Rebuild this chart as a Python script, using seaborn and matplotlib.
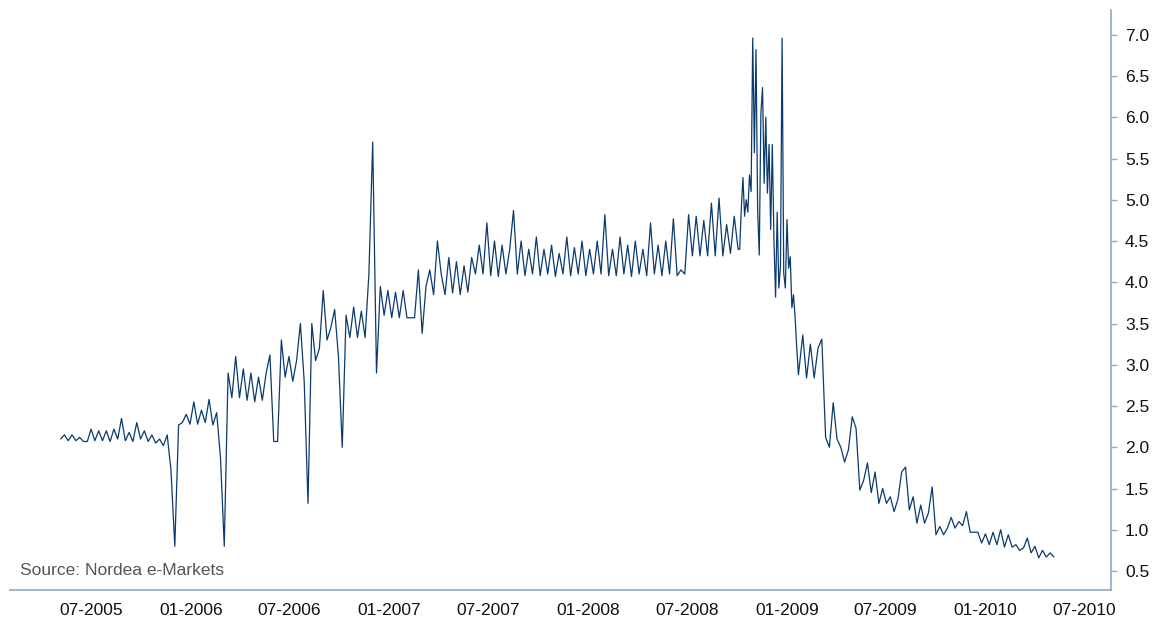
"""
Nordea e-Markets rate history, May 2005 - May 2010
"""
import pandas as pd
import matplotlib
matplotlib.use("Agg")
import matplotlib.pyplot as plt
import matplotlib.dates as mdates
from matplotlib.ticker import FixedLocator, FormatStrFormatter
import seaborn as sns

# weekly readings (Fridays) from 2005-05-06
vals_2005 = [2.10, 2.15, 2.08, 2.15, 2.08, 2.12, 2.07, 2.07, 2.22, 2.08,
             2.20, 2.08, 2.20, 2.07, 2.22, 2.10, 2.35, 2.08, 2.18, 2.07,
             2.30, 2.10, 2.20, 2.07, 2.15, 2.05, 2.10, 2.02, 2.15, 1.72,
             0.80, 2.27, 2.30, 2.40, 2.28]

# weekly from 2006-01-06
vals_2006 = [2.55, 2.28, 2.45, 2.30, 2.58, 2.27, 2.42, 1.88, 0.80, 2.90,
             2.60, 3.10, 2.60, 2.95, 2.57, 2.90, 2.55, 2.85, 2.57, 2.90,
             3.12, 2.07, 2.07, 3.30, 2.85, 3.10, 2.80, 3.05, 3.50, 2.80,
             1.32, 3.50, 3.05, 3.20, 3.90, 3.30, 3.45, 3.67, 3.10, 2.00,
             3.60, 3.33, 3.70, 3.33, 3.65, 3.33, 4.10, 5.70, 2.90, 3.95,
             3.60, 3.90]

# weekly from 2007-01-05
vals_2007 = [3.57, 3.88, 3.57, 3.90, 3.57, 3.57, 3.57, 4.15, 3.38, 3.95,
             4.15, 3.85, 4.50, 4.10, 3.85, 4.30, 3.87, 4.25, 3.85, 4.20,
             3.88, 4.30, 4.10, 4.45, 4.10, 4.72, 4.08, 4.50, 4.07, 4.45,
             4.10, 4.40, 4.87, 4.10, 4.50, 4.08, 4.40, 4.10, 4.55, 4.08,
             4.40, 4.10, 4.45, 4.07, 4.35, 4.10, 4.55, 4.08, 4.42, 4.10,
             4.50, 4.08]

# weekly from 2008-01-04 to end of September
vals_2008 = [4.40, 4.10, 4.50, 4.10, 4.82, 4.08, 4.40, 4.08, 4.55, 4.10,
             4.45, 4.07, 4.50, 4.10, 4.40, 4.08, 4.72, 4.10, 4.45, 4.08,
             4.50, 4.10, 4.77, 4.08, 4.15, 4.10, 4.82, 4.32, 4.80, 4.32,
             4.75, 4.32, 4.96, 4.32, 5.02, 4.32, 4.70, 4.35, 4.80, 4.40]

# every third day from 2008-10-06, the most volatile stretch
vals_crisis = [4.40, 4.90, 5.27, 4.80, 5.00, 4.85, 5.30, 5.10, 6.96, 5.57,
               6.82, 4.88, 4.33, 6.05, 6.36, 5.20, 6.00, 5.08, 5.67, 4.64,
               5.67, 4.51, 3.82, 4.85, 3.93, 4.20, 6.96, 4.11, 3.93, 4.76,
               4.17, 4.31, 3.69, 3.85, 3.57, 3.20, 2.88]

# weekly from 2009-01-30
vals_2009 = [3.36, 2.84, 3.25, 2.84, 3.20, 3.31, 2.12, 2.00, 2.54, 2.10,
             2.00, 1.82, 1.97, 2.37, 2.23, 1.48, 1.60, 1.81, 1.45, 1.70,
             1.32, 1.50, 1.32, 1.40, 1.22, 1.37, 1.70, 1.76, 1.24, 1.40,
             1.08, 1.30, 1.08, 1.20, 1.52, 0.94, 1.04, 0.94, 1.02, 1.15,
             1.02, 1.10, 1.05, 1.22, 0.97, 0.97, 0.97, 0.84]

# weekly from 2010-01-01
vals_2010 = [0.95, 0.82, 0.97, 0.82, 1.00, 0.79, 0.94, 0.79, 0.82, 0.75,
             0.78, 0.90, 0.72, 0.80, 0.66, 0.75, 0.67, 0.72, 0.67]

y_ticks = [0.5, 1.0, 1.5, 2.0, 2.5, 3.0, 3.5, 4.0, 4.5, 5.0, 5.5, 6.0, 6.5, 7.0]
source_text = "Source: Nordea e-Markets"

LINE = "#0b3a6e"
AXIS = "#8eaacb"


def build_frame():
    parts = [
        ("2005-05-06", "7D", vals_2005),
        ("2006-01-06", "7D", vals_2006),
        ("2007-01-05", "7D", vals_2007),
        ("2008-01-04", "7D", vals_2008),
        ("2008-10-06", "3D", vals_crisis),
        ("2009-01-30", "7D", vals_2009),
        ("2010-01-01", "7D", vals_2010),
    ]
    frames = []
    for start, freq, vals in parts:
        dates = pd.date_range(start, periods=len(vals), freq=freq)
        frames.append(pd.DataFrame({"date": dates, "rate": vals}))
    return pd.concat(frames, ignore_index=True)


df = build_frame()

sns.set_style("white")
plt.rcParams["font.family"] = ["Liberation Sans", "DejaVu Sans"]

fig = plt.figure(figsize=(11.56, 6.18), dpi=100)
ax = fig.add_axes([0.0087, 0.0453, 0.9524, 0.9385])

sns.lineplot(data=df, x="date", y="rate", ax=ax, color=LINE,
             linewidth=0.9, estimator=None)

ax.set_xlim(pd.Timestamp("2005-02-02"), pd.Timestamp("2010-08-20"))
ax.set_ylim(0.27, 7.30)

ax.xaxis.set_major_locator(mdates.MonthLocator(bymonth=[1, 7]))
ax.xaxis.set_major_formatter(mdates.DateFormatter("%m-%Y"))
ax.yaxis.set_major_locator(FixedLocator(y_ticks))
ax.yaxis.set_major_formatter(FormatStrFormatter("%.1f"))
ax.yaxis.tick_right()

ax.set_xlabel("")
ax.set_ylabel("")

for side in ["top", "left"]:
    ax.spines[side].set_visible(False)
for side in ["bottom", "right"]:
    ax.spines[side].set_color(AXIS)
    ax.spines[side].set_linewidth(1.2)

ax.tick_params(axis="x", direction="out", length=4, width=1, color=AXIS,
               labelsize=12.5, labelcolor="#111111", pad=5)
ax.tick_params(axis="y", direction="out", length=4, width=1, color=AXIS,
               labelsize=12.5, labelcolor="#111111", pad=6,
               right=True, left=False)

ax.text(0.009, 0.034, source_text, transform=ax.transAxes,
        fontsize=12.5, color="#555555", va="center", ha="left")

fig.savefig("out.png", dpi=100)
